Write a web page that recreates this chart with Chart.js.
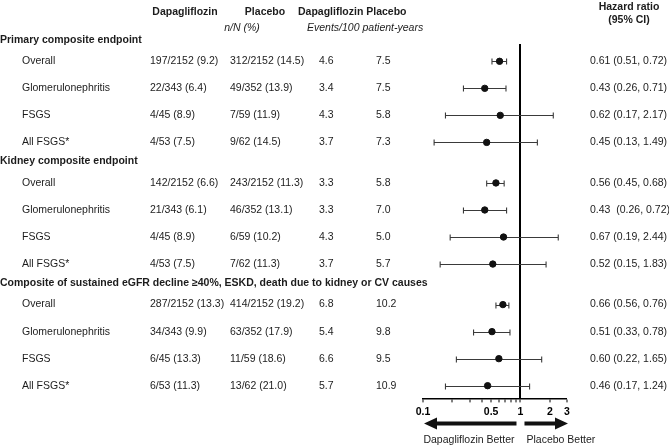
<!DOCTYPE html>
<html>
<head>
<meta charset="utf-8">
<script src="https://cdn.jsdelivr.net/npm/chart.js@4"></script>
<style>
  html, body { margin: 0; padding: 0; background: #fff; }
  #wrap { width: 669px; height: 447px; position: relative; }
</style>
</head>
<body>
<div id="wrap"><canvas id="forest"></canvas></div>
<script>
// endpoints and subgroups
const groups = [
  "Primary composite endpoint",
  "Kidney composite endpoint",
  "Composite of sustained eGFR decline \u226540%, ESKD, death due to kidney or CV causes"
];
const subgroups = ["Overall", "Glomerulonephritis", "FSGS", "All FSGS*"];

// n/N (%) columns
const dapaN = [
  "197/2152 (9.2)", "22/343 (6.4)", "4/45 (8.9)", "4/53 (7.5)",
  "142/2152 (6.6)", "21/343 (6.1)", "4/45 (8.9)", "4/53 (7.5)",
  "287/2152 (13.3)", "34/343 (9.9)", "6/45 (13.3)", "6/53 (11.3)"
];
const placeboN = [
  "312/2152 (14.5)", "49/352 (13.9)", "7/59 (11.9)", "9/62 (14.5)",
  "243/2152 (11.3)", "46/352 (13.1)", "6/59 (10.2)", "7/62 (11.3)",
  "414/2152 (19.2)", "63/352 (17.9)", "11/59 (18.6)", "13/62 (21.0)"
];
// events / 100 patient-years
const dapaRate = [4.6, 3.4, 4.3, 3.7, 3.3, 3.3, 4.3, 3.7, 6.8, 5.4, 6.6, 5.7];
const placeboRate = [7.5, 7.5, 5.8, 7.3, 5.8, 7.0, 5.0, 5.7, 10.2, 9.8, 9.5, 10.9];
// hazard ratios with 95% CI
const hr = [0.61, 0.43, 0.62, 0.45, 0.56, 0.43, 0.67, 0.52, 0.66, 0.51, 0.60, 0.46];
const hrLow = [0.51, 0.26, 0.17, 0.13, 0.45, 0.26, 0.19, 0.15, 0.56, 0.33, 0.22, 0.17];
const hrHigh = [0.72, 0.71, 2.17, 1.49, 0.68, 0.72, 2.44, 1.83, 0.76, 0.78, 1.65, 1.24];
const hrText = [
  "0.61 (0.51, 0.72)", "0.43 (0.26, 0.71)", "0.62 (0.17, 2.17)", "0.45 (0.13, 1.49)",
  "0.56 (0.45, 0.68)", "0.43  (0.26, 0.72)", "0.67 (0.19, 2.44)", "0.52 (0.15, 1.83)",
  "0.66 (0.56, 0.76)", "0.51 (0.33, 0.78)", "0.60 (0.22, 1.65)", "0.46 (0.17, 1.24)"
];
// x axis ticks
const xTicks = [0.1, 0.2, 0.3, 0.4, 0.5, 0.6, 0.7, 0.8, 0.9, 1, 2, 3];
const xLabels = [0.1, 0.5, 1, 2, 3];

const FONT = "'Liberation Sans', Arial, sans-serif";
const TXT = "#1c1c1c";

// row index -> position on y scale (groups separated by a header gap)
function rowPos(i) {
  return Math.floor(i / 4) * 4.5 + (i % 4);
}

const points = hr.map((v, i) => ({ x: v, y: rowPos(i) }));

// draws the CI whiskers under the points
const whiskers = {
  id: "whiskers",
  beforeDatasetsDraw(chart) {
    const ctx = chart.ctx;
    const xs = chart.scales.x, ys = chart.scales.y;
    ctx.save();
    ctx.strokeStyle = "#3a3a3a";
    ctx.lineWidth = 1.1;
    hr.forEach((v, i) => {
      const y = Math.round(ys.getPixelForValue(rowPos(i))) + 0.5;
      const x1 = xs.getPixelForValue(hrLow[i]);
      const x2 = xs.getPixelForValue(hrHigh[i]);
      ctx.beginPath();
      ctx.moveTo(x1, y); ctx.lineTo(x2, y);
      ctx.moveTo(x1, y - 3); ctx.lineTo(x1, y + 3);
      ctx.moveTo(x2, y - 3); ctx.lineTo(x2, y + 3);
      ctx.stroke();
    });
    ctx.restore();
  }
};

// table text, headers and arrows
const table = {
  id: "table",
  afterDraw(chart) {
    const ctx = chart.ctx;
    const xs = chart.scales.x, ys = chart.scales.y;
    ctx.save();
    ctx.fillStyle = TXT;
    ctx.textBaseline = "middle";

    // column headers
    ctx.font = "bold 10.5px " + FONT;
    ctx.textAlign = "center";
    ctx.fillText("Dapagliflozin", 185, 12);
    ctx.fillText("Placebo", 265, 12);
    ctx.fillText("Hazard ratio", 629, 7);
    ctx.fillText("(95% CI)", 629, 20);
    ctx.textAlign = "left";
    ctx.fillText("Dapagliflozin Placebo", 298, 12);
    ctx.font = "italic 10.5px " + FONT;
    ctx.textAlign = "center";
    ctx.fillText("n/N (%)", 242, 28);
    ctx.textAlign = "left";
    ctx.fillText("Events/100 patient-years", 307, 28);

    // group headers
    ctx.font = "bold 10.5px " + FONT;
    groups.forEach((g, k) => {
      ctx.fillText(g, 0, ys.getPixelForValue(k * 4.5 - 0.8));
    });

    // rows
    ctx.font = "10.5px " + FONT;
    hr.forEach((v, i) => {
      const y = ys.getPixelForValue(rowPos(i));
      ctx.fillText(subgroups[i % 4], 22, y);
      ctx.fillText(dapaN[i], 150, y);
      ctx.fillText(placeboN[i], 230, y);
      ctx.fillText(dapaRate[i].toFixed(1), 319, y);
      ctx.fillText(placeboRate[i].toFixed(1), 376, y);
      ctx.fillText(hrText[i], 590, y);
    });

    // arrows under the axis
    const ay = chart.chartArea.bottom + 25;
    const one = xs.getPixelForValue(1);
    const left = xs.getPixelForValue(0.1), right = xs.getPixelForValue(3);
    ctx.fillStyle = "#111";
    ctx.beginPath();
    ctx.moveTo(left + 1, ay);
    ctx.lineTo(left + 14, ay - 6);
    ctx.lineTo(left + 14, ay - 2);
    ctx.lineTo(one - 4, ay - 2);
    ctx.lineTo(one - 4, ay + 2);
    ctx.lineTo(left + 14, ay + 2);
    ctx.lineTo(left + 14, ay + 6);
    ctx.closePath();
    ctx.fill();
    ctx.beginPath();
    ctx.moveTo(right + 1, ay);
    ctx.lineTo(right - 12, ay - 6);
    ctx.lineTo(right - 12, ay - 2);
    ctx.lineTo(one + 4, ay - 2);
    ctx.lineTo(one + 4, ay + 2);
    ctx.lineTo(right - 12, ay + 2);
    ctx.lineTo(right - 12, ay + 6);
    ctx.closePath();
    ctx.fill();

    ctx.fillStyle = TXT;
    ctx.font = "10.5px " + FONT;
    ctx.textAlign = "right";
    ctx.fillText("Dapagliflozin Better", one - 6, ay + 17);
    ctx.textAlign = "left";
    ctx.fillText("Placebo Better", one + 6, ay + 17);
    ctx.restore();
  }
};

new Chart(document.getElementById("forest"), {
  type: "scatter",
  data: {
    datasets: [{
      data: points,
      backgroundColor: "#111",
      borderColor: "#111",
      pointRadius: 3.2,
      pointHoverRadius: 3.2
    }]
  },
  options: {
    responsive: true,
    maintainAspectRatio: false,
    animation: false,
    layout: { padding: { left: 423, right: 102, top: 44, bottom: 26 } },
    plugins: { legend: { display: false }, tooltip: { enabled: false } },
    scales: {
      x: {
        type: "logarithmic",
        min: 0.1,
        max: 3,
        afterBuildTicks: (scale) => {
          scale.ticks = xTicks.map(v => ({ value: v }));
        },
        border: { display: true, color: "#000", width: 1.5 },
        grid: {
          drawOnChartArea: true,
          color: (c) => (c.tick && c.tick.value === 1 ? "#000" : "rgba(0,0,0,0)"),
          lineWidth: (c) => (c.tick && c.tick.value === 1 ? 2 : 0),
          tickColor: "#000",
          tickWidth: 1,
          tickLength: 4
        },
        ticks: {
          autoSkip: false,
          maxRotation: 0,
          padding: 3,
          color: "#000",
          font: { family: FONT, size: 10.5, weight: "bold" },
          callback: (v) => (xLabels.includes(v) ? String(v) : "")
        }
      },
      y: {
        type: "linear",
        display: false,
        reverse: true,
        min: -0.64,
        max: 12.47
      }
    }
  },
  plugins: [whiskers, table]
});
</script>
</body>
</html>
